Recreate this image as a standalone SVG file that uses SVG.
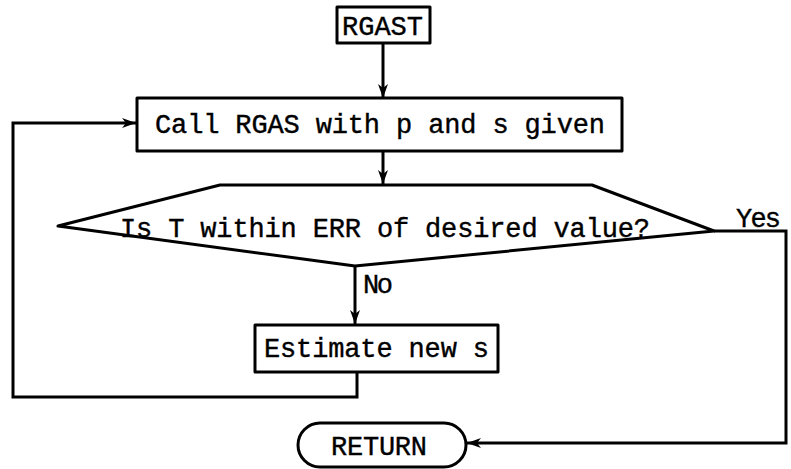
<svg xmlns="http://www.w3.org/2000/svg" width="791" height="469" viewBox="0 0 791 469">
<defs>
<style>
.box{fill:#fff;stroke:#000;stroke-width:3;stroke-linejoin:round}
.ln{fill:none;stroke:#000;stroke-width:3;stroke-linejoin:miter}
.t{font-family:"Liberation Mono","Courier New",monospace;font-size:27px;fill:#000;stroke:#000;stroke-width:0.4}
</style>
<marker id="ah" viewBox="0 0 14 10" refX="14" refY="5" markerWidth="14" markerHeight="10" markerUnits="userSpaceOnUse" orient="auto">
<path d="M0,0 L14,5 L0,10 L4,5 Z" fill="#000"/>
</marker>
</defs>
<rect width="791" height="469" fill="#fff"/>
<g id="connectors">
<path class="ln" d="M383,43 L383,98" marker-end="url(#ah)"/>
<path class="ln" d="M383,151 L383,184" marker-end="url(#ah)"/>
<path class="ln" d="M355,266 L355,324" marker-end="url(#ah)"/>
<path class="ln" d="M357,372 L357,397 L13,397 L13,123 L136,123" marker-end="url(#ah)"/>
<path class="ln" d="M714,231 L786,231 L786,443 L467,443" marker-end="url(#ah)"/>
<text class="t" x="363" y="293" textLength="30">No</text>
<text class="t" x="736" y="227" textLength="45">Yes</text>
</g>
<g id="rgast">
<rect class="box" x="337" y="7" width="93" height="36"/>
<text class="t" x="342" y="35" textLength="81">RGAST</text>
</g>
<g id="call">
<rect class="box" x="137" y="98" width="485" height="53"/>
<text class="t" x="155" y="133" textLength="450">Call RGAS with p and s given</text>
</g>
<g id="decision">
<path class="box" d="M58,226 L220,185 L592,185 L714,231 L355,266 Z"/>
<text class="t" x="120" y="237" textLength="530">Is T within ERR of desired value?</text>
</g>
<g id="estimate">
<rect class="box" x="255" y="325" width="243" height="47"/>
<text class="t" x="264" y="357" textLength="225">Estimate new s</text>
</g>
<g id="return">
<rect class="box" x="298" y="423" width="168" height="44" rx="22" ry="22"/>
<text class="t" x="331" y="455" textLength="96">RETURN</text>
</g>
</svg>
